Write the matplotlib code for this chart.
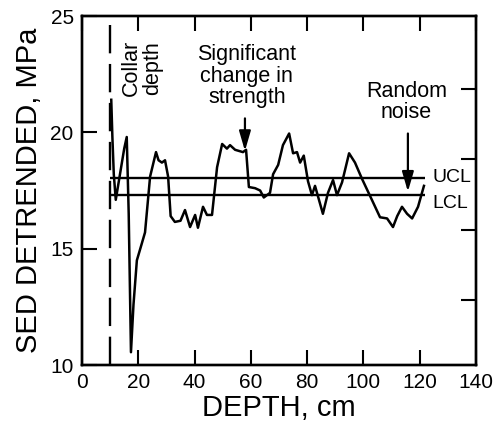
import matplotlib
matplotlib.use("Agg")
import matplotlib.pyplot as plt

plt.rcParams["font.family"] = ["Liberation Sans", "DejaVu Sans"]

# ── data ──────────────────────────────────────────────────────────────────────
depth = [10.4, 10.8, 11.3, 12.0, 13.5, 15.0, 15.9, 16.6, 17.4, 18.3, 19.5,
         21.2, 22.4, 24.2, 26.3, 27.2, 28.4, 29.5, 30.6, 31.5, 33.0, 35.0,
         36.6, 38.4, 40.2, 41.2, 43.0, 44.4, 46.2, 48.0, 49.8, 51.5, 52.6,
         54.4, 57.2, 58.3, 59.3, 61.5, 63.3, 64.6, 66.8, 67.9, 69.7, 71.4,
         73.6, 75.0, 76.4, 77.5, 78.8, 80.3, 81.7, 82.8, 85.6, 87.4, 89.2,
         90.6, 92.4, 94.9, 97.0, 99.5, 103.0, 105.9, 108.4, 110.5, 112.0,
         113.7, 115.5, 117.3, 119.4, 120.8, 121.5]
sed = [21.4, 19.8, 18.2, 17.1, 18.2, 19.3, 19.8, 16.5, 10.55, 12.6, 14.5,
       15.2, 15.7, 18.1, 19.15, 18.8, 18.7, 18.8, 18.1, 16.4, 16.15, 16.2,
       16.66, 15.93, 16.45, 15.9, 16.8, 16.45, 16.45, 18.5, 19.5, 19.3, 19.45,
       19.25, 19.15, 19.25, 17.65, 17.6, 17.5, 17.2, 17.4, 18.2, 18.6, 19.45,
       19.95, 19.1, 19.15, 18.7, 19.0, 17.9, 17.3, 17.7, 16.5, 17.4, 17.95,
       17.3, 17.85, 19.1, 18.7, 18.0, 17.1, 16.35, 16.3, 15.93, 16.4,
       16.8, 16.5, 16.3, 16.8, 17.4, 17.7]

collar_depth = 10
ucl = 18.04
lcl = 17.3
limit_end = 121.9

x_ticks = [0, 20, 40, 60, 80, 100, 120, 140]
y_ticks = [10, 15, 20, 25]
right_ticks = [21.85, 18.85, 15.8, 12.8]

# ── figure ────────────────────────────────────────────────────────────────────
fig = plt.figure(figsize=(4.96, 4.41), dpi=100)
ax = fig.add_axes([0.1653, 0.1723, 0.7944, 0.7914])

ax.plot(depth, sed, color="black", lw=1.8, solid_joinstyle="round")
ax.axvline(collar_depth, ymin=0, ymax=0.985, color="black", lw=1.7,
           dashes=(12, 4.5))
ax.hlines([ucl, lcl], collar_depth, limit_end, color="black", lw=1.7)

ax.text(124.4, ucl, "UCL", fontsize=14, va="center", ha="left")
ax.text(124.4, 16.95, "LCL", fontsize=14, va="center", ha="left")

ax.text(21.3, 22.76, "Collar\ndepth", fontsize=15.5, rotation=90,
        ha="center", va="center", multialignment="center", linespacing=1.05)
ax.text(58.6, 22.42, "Significant\nchange in\nstrength", fontsize=15.5,
        ha="center", va="center", multialignment="center", linespacing=1.05)
ax.text(115.3, 21.3, "Random\nnoise", fontsize=15.5,
        ha="center", va="center", multialignment="center", linespacing=1.05)

arrow = dict(arrowstyle="-|>,head_length=1.2,head_width=0.35", color="black",
             lw=1.6, shrinkA=0, shrinkB=0, mutation_scale=10)
ax.annotate("", xy=(57.9, 19.2), xytext=(57.9, 20.6), arrowprops=arrow)
ax.annotate("", xy=(115.8, 17.45), xytext=(115.8, 19.95), arrowprops=arrow)

ax.set_xlim(0, 140)
ax.set_ylim(10, 25)
ax.set_xticks(x_ticks)
ax.set_yticks(y_ticks)
ax.tick_params(direction="in", length=11, width=1.5, labelsize=15, pad=6,
               top=True, right=False)
ax.set_xlabel("DEPTH, cm", fontsize=21, labelpad=1)
ax.set_ylabel("SED DETRENDED, MPa", fontsize=21, labelpad=5)
for s in ax.spines.values():
    s.set_linewidth(1.7)

ax2 = ax.twinx()
ax2.set_ylim(10, 25)
ax2.set_yticks(right_ticks)
ax2.set_yticklabels([])
ax2.tick_params(direction="in", length=11, width=1.5)
for s in ax2.spines.values():
    s.set_linewidth(1.7)

fig.savefig("out.png", dpi=100)
